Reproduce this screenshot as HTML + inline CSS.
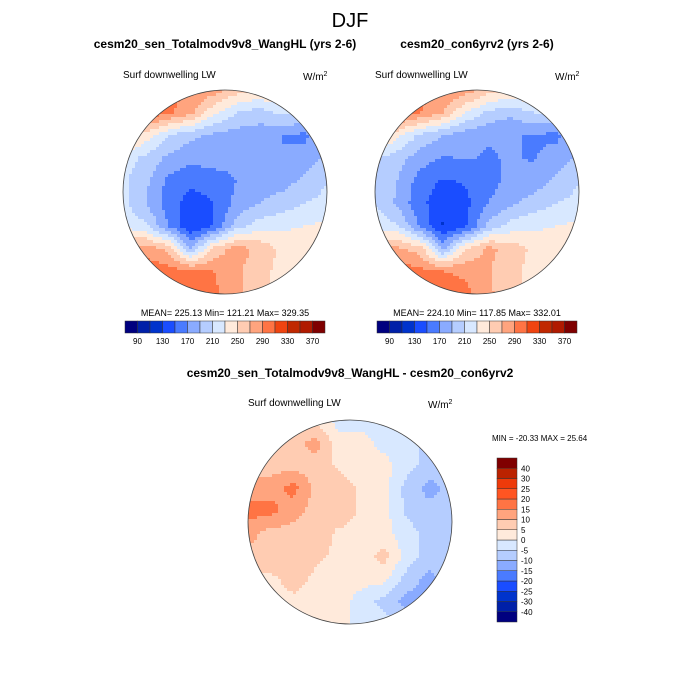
<!DOCTYPE html>
<html><head><meta charset="utf-8"><style>
body{margin:0;background:#fff;}
svg{display:block;font-family:"Liberation Sans",sans-serif;}
</style></head><body>
<svg id="fig" width="700" height="700" viewBox="0 0 700 700">
<text x="350" y="27" font-size="20" text-anchor="middle">DJF</text>
<text x="225" y="48" font-size="12" font-weight="bold" text-anchor="middle">cesm20_sen_Totalmodv9v8_WangHL (yrs 2-6)</text>
<text x="477" y="48" font-size="12" font-weight="bold" text-anchor="middle">cesm20_con6yrv2 (yrs 2-6)</text>
<text x="123" y="78" font-size="10">Surf downwelling LW</text>
<text x="303" y="80" font-size="10">W/m<tspan font-size="7" dy="-4">2</tspan></text>
<text x="375" y="78" font-size="10">Surf downwelling LW</text>
<text x="555" y="80" font-size="10">W/m<tspan font-size="7" dy="-4">2</tspan></text>
<text x="225" y="316" font-size="9" text-anchor="middle">MEAN= 225.13  Min= 121.21  Max= 329.35</text>
<text x="477" y="316" font-size="9" text-anchor="middle">MEAN= 224.10  Min= 117.85  Max= 332.01</text>
<text x="350" y="377" font-size="12" font-weight="bold" text-anchor="middle">cesm20_sen_Totalmodv9v8_WangHL - cesm20_con6yrv2</text>
<text x="248" y="406" font-size="10">Surf downwelling LW</text>
<text x="428" y="408" font-size="10">W/m<tspan font-size="7" dy="-4">2</tspan></text>
<text x="492" y="441" font-size="8">MIN = -20.33 MAX =  25.64</text>
<g id="maps"></g>
</svg>
<script>
const absLevels=[90,110,130,150,170,190,210,230,250,270,290,310,330,350,370];
const absTickLabels=["90","130","170","210","250","290","330","370"];
const diffLevels=[-40,-30,-25,-20,-15,-10,-5,0,5,10,15,20,25,30,40];
const diffTickLabels=["-40","-30","-25","-20","-15","-10","-5","0","5","10","15","20","25","30","40"];
const colors=["#00007f","#0020a8","#0033cc","#1a4dff","#4a7bff","#8aabff","#b5cdff","#d8e8ff","#ffeadb","#ffccb2","#ffa47e","#ff7444","#f04410","#c02800","#b01a00","#7f0000"];
const diffColors=["#00007f","#0020a8","#0033cc","#1a4dff","#4a7bff","#8aabff","#b5cdff","#d8e8ff","#ffeadb","#ffccb2","#ffa47e","#ff7444","#ff5522","#ee3a0a","#bb2200","#800000"];
const sensGrid=[
[305,305,300,290,280,260,250,260,260,250],
[305,305,295,275,235,210,200,215,215,200],
[270,240,210,195,185,180,180,170,165,185],
[220,205,185,175,180,175,178,170,180,195],
[215,195,165,155,160,170,180,180,195,210],
[215,190,160,140,150,175,190,200,210,215],
[225,215,170,130,150,200,220,225,230,235],
[275,280,265,190,255,280,265,245,245,240],
[305,305,300,295,290,275,255,245,240,240],
[320,320,315,305,295,275,255,245,240,240]];
const ctrlGrid=[
[305,305,300,290,280,260,250,260,260,250],
[305,305,290,270,230,205,195,210,210,200],
[265,235,205,190,178,172,172,168,165,185],
[212,198,180,168,172,168,172,168,180,195],
[208,190,160,148,152,162,175,178,195,210],
[210,186,155,138,145,170,186,200,210,215],
[222,212,167,128,146,196,218,225,230,235],
[270,275,260,186,250,276,262,245,245,240],
[303,303,296,290,286,272,254,245,240,240],
[320,320,315,305,295,275,255,245,240,240]];
const diffGrid=[
[3,3,3,3,-2,-2,-2,-2,-2,-2],
[4,8,8,12,2,2,-2,-3,-7,-7],
[8,8,8,8,4,2,2,-3,-7,-7],
[12,12,17,8,8,4,2,-7,-12,-8],
[17,17,12,8,8,4,2,-6,-8,-8],
[12,8,8,8,4,4,2,-3,-7,-7],
[8,8,8,6,4,2,7,-2,-7,-7],
[4,4,7,4,2,2,2,-7,-12,-7],
[2,2,4,2,2,-2,-7,-12,-12,-7],
[-2,2,2,2,2,-2,-2,-7,-12,-7]];

const NS="http://www.w3.org/2000/svg";
const root=document.getElementById('maps');
function mk(t,a,p){const e=document.createElementNS(NS,t);for(const k in a)e.setAttribute(k,a[k]);(p||root).appendChild(e);return e;}
function classify(v,levels){let i=0;while(i<levels.length&&v>=levels[i])i++;return i;}
function sample(g,fx,fy){
  const n=g.length,m=g[0].length;
  let x=fx*(m-1),y=fy*(n-1);
  x=Math.max(0,Math.min(m-1,x));y=Math.max(0,Math.min(n-1,y));
  const x0=Math.floor(x),y0=Math.floor(y),x1=Math.min(m-1,x0+1),y1=Math.min(n-1,y0+1);
  const tx=x-x0,ty=y-y0;
  return g[y0][x0]*(1-tx)*(1-ty)+g[y0][x1]*tx*(1-ty)+g[y1][x0]*(1-tx)*ty+g[y1][x1]*tx*ty;
}
function drawMap(id,cx,cy,r,grid,levels,cols){
  const cp=mk('clipPath',{id:'clip-'+id});
  mk('circle',{cx:cx,cy:cy,r:r},cp);
  const g=mk('g',{'clip-path':'url(#clip-'+id+')'});
  
  
  const step=3;
  for(let y=cy-r;y<cy+r;y+=step){
    for(let x=cx-r;x<cx+r;x+=step){
      const v=sample(grid,(x+step/2-(cx-r))/(2*r),(y+step/2-(cy-r))/(2*r));
      const c=mk('rect',{x:x,y:y,width:step+0.5,height:step+0.5,fill:cols[classify(v,levels)]},g);
      
      
    }
  }
  const o=mk('circle',{cx:cx,cy:cy,r:r,fill:'none',stroke:'#444','stroke-width':0.8});
  
  
}
function hBar(id,x0,y0,w,h,levels,cols,labels){
  const n=cols.length,bw=w/n;
  for(let i=0;i<n;i++){
    const b=mk('rect',{x:x0+i*bw,y:y0,width:bw,height:h,fill:cols[i],stroke:'#333','stroke-width':0.5});
    
    
  }
  labels.forEach(l=>{
    const li=levels.indexOf(+l);
    const t=mk('text',{x:x0+(li+1)*bw,y:y0+h+11,'font-size':8,'text-anchor':'middle'});
    t.textContent=l;
    
    
  });
}
function vBar(id,x0,y0,w,h,levels,cols,labels){
  const n=cols.length,bh=h/n;
  for(let i=0;i<n;i++){
    const b=mk('rect',{x:x0,y:y0+h-(i+1)*bh,width:w,height:bh,fill:cols[i],stroke:'#333','stroke-width':0.5});
    
    
  }
  labels.forEach(l=>{
    const li=levels.indexOf(+l);
    const t=mk('text',{x:x0+w+4,y:y0+h-(li+1)*bh+3,'font-size':8});
    t.textContent=l;
    
    
  });
}
drawMap('sensitivity',225,192,102,sensGrid,absLevels,colors);
drawMap('control',477,192,102,ctrlGrid,absLevels,colors);
drawMap('difference',350,522,102,diffGrid,diffLevels,diffColors);
hBar('left',125,321,200,12,absLevels,colors,absTickLabels);
hBar('right',377,321,200,12,absLevels,colors,absTickLabels);
vBar('diff',497,458,20,164,diffLevels,diffColors,diffTickLabels);
</script>
</body></html>
